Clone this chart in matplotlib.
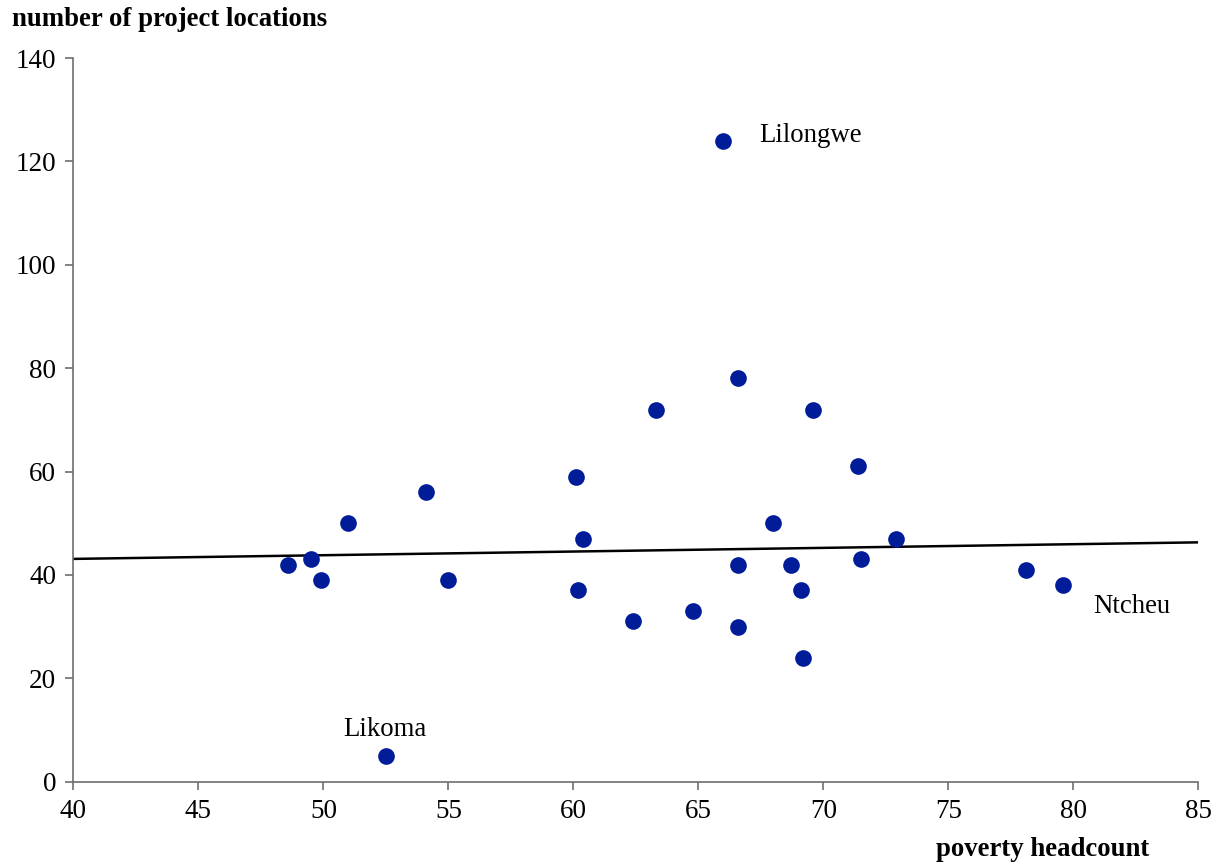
import matplotlib
matplotlib.use('Agg')
import matplotlib.pyplot as plt

# poverty headcount vs number of project locations, one point per district
poverty = [66.0, 66.6, 63.3, 69.6, 71.4, 60.1, 54.1, 51.0, 68.0, 60.4, 72.9, 49.5, 71.5, 48.6,
           66.6, 68.7, 78.1, 49.9, 55.0, 79.6, 60.2, 69.1, 64.8, 62.4, 66.6, 69.2, 52.5]
projects = [124, 78, 72, 72, 61, 59, 56, 50, 50, 47, 47, 43, 43, 42,
            42, 42, 41, 39, 39, 38, 37, 37, 33, 31, 30, 24, 5]

# trend line
trend_x = [40, 85]
trend_y = [43.1, 46.3]

labels = ['Lilongwe', 'Likoma', 'Ntcheu']
label_x = [67.45, 52.45, 80.8]
label_y = [125.1, 10.0, 33.8]

plt.rcParams['font.family'] = ['Liberation Serif', 'DejaVu Serif']

fig = plt.figure(figsize=(12.2, 8.67), dpi=100)
ax = fig.add_axes([0.0602, 0.0984, 0.922, 0.8347])

ax.plot(trend_x, trend_y, color='black', linewidth=1.8, zorder=2)
ax.plot(poverty, projects, linestyle='none', marker='o', markersize=12,
        color='#001c98', markeredgewidth=0, zorder=3)

ax.text(label_x[0], label_y[0], labels[0], fontsize=19.3, ha='left', va='center')
ax.text(label_x[1], label_y[1], labels[1], fontsize=19.3, ha='center', va='center')
ax.text(label_x[2], label_y[2], labels[2], fontsize=19.3, ha='left', va='center')

ax.set_xlim(40, 85)
ax.set_ylim(0, 140)
ax.set_xticks(range(40, 86, 5))
ax.set_yticks(range(0, 141, 20))

for s in ['top', 'right']:
    ax.spines[s].set_visible(False)
for s in ['left', 'bottom']:
    ax.spines[s].set_color('#6e6e6e')
    ax.spines[s].set_linewidth(1.2)
ax.tick_params(direction='out', length=5.5, width=1.2, color='#6e6e6e', labelsize=19.5)
ax.tick_params(axis='x', pad=7)
ax.tick_params(axis='y', pad=7)

fig.text(12 / 1220, 1 - 20 / 867, 'number of project locations', fontsize=19.3,
         fontweight='bold', ha='left', va='center')
fig.text(1043 / 1220, 1 - 850 / 867, 'poverty headcount', fontsize=19.3,
         fontweight='bold', ha='center', va='center')

fig.savefig('out.png', dpi=100)
